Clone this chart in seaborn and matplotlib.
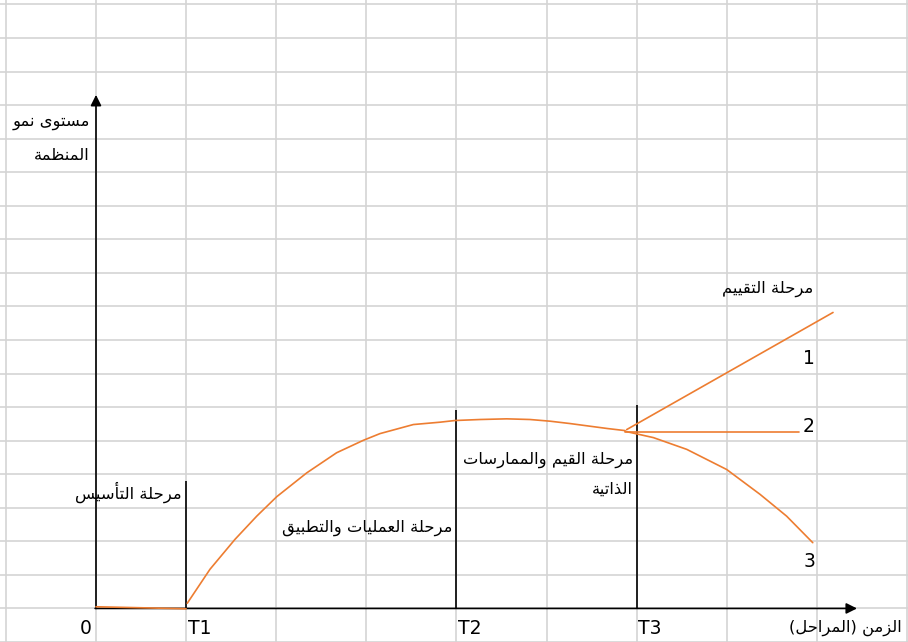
import matplotlib
matplotlib.use("Agg")
import matplotlib.pyplot as plt
import seaborn as sns

sns.set_style("white")
plt.rcParams['font.family'] = ['DejaVu Sans']
plt.rcParams['text.color'] = 'black'

# ── data (x in stage columns, y in growth rows) ─────────────────────────────
found_x = [0.0, 0.5, 1.0]
found_y = [0.05, 0.02, -0.01]

growth_x = [1.013, 1.265, 1.543, 1.784, 2.006, 2.339, 2.671, 2.967, 3.152, 3.522,
            3.818, 3.984, 4.262, 4.558, 4.817, 5.039, 5.26, 5.483, 5.68, 5.871]
growth_y = [0.155, 1.167, 2.06, 2.75, 3.33, 4.04, 4.64, 5.01, 5.21, 5.48,
            5.55, 5.60, 5.63, 5.65, 5.63, 5.58, 5.51, 5.43, 5.36, 5.30]

up_x, up_y = [5.89, 8.18], [5.33, 8.82]
flat_x, flat_y = [5.87, 7.80], [5.27, 5.27]
down_x = [5.871, 6.187, 6.557, 7.0, 7.37, 7.665, 7.955]
down_y = [5.28, 5.09, 4.74, 4.14, 3.40, 2.75, 1.96]

stage_x = [1, 4, 6]
stage_top = [3.79, 5.9, 6.05]
tick_x = [0, 1, 4, 6]
tick_labels = ["0", "T1", "T2", "T3"]

stage_names = ["مرحلة التأسيس", "مرحلة العمليات والتطبيق",
               "مرحلة القيم والممارسات", "الذاتية", "مرحلة التقييم"]
branch_labels = ["1", "2", "3"]
y_title = ["مستوى نمو", "المنظمة"]
x_title = "الزمن (المراحل)"

# minimal Arabic shaping -> presentation forms, visual order
AR_FORMS = {
    'ا': (0xFE8D, False), 'أ': (0xFE83, False), 'ب': (0xFE8F, True), 'ة': (0xFE93, False),
    'ت': (0xFE95, True), 'ح': (0xFEA1, True), 'ذ': (0xFEAB, False), 'ر': (0xFEAD, False),
    'ز': (0xFEAF, False), 'س': (0xFEB1, True), 'ط': (0xFEC1, True), 'ظ': (0xFEC5, True),
    'ع': (0xFEC9, True), 'ق': (0xFED5, True), 'ل': (0xFEDD, True), 'م': (0xFEE1, True),
    'ن': (0xFEE5, True), 'و': (0xFEED, False), 'ى': (0xFEEF, False), 'ي': (0xFEF1, True),
}


def ar(text):
    out = []
    for i, ch in enumerate(text):
        if ch not in AR_FORMS:
            out.append(ch)
            continue
        base, dual = AR_FORMS[ch]
        prev = text[i - 1] if i > 0 else ''
        nxt = text[i + 1] if i + 1 < len(text) else ''
        jp = prev in AR_FORMS and AR_FORMS[prev][1]
        jn = dual and nxt in AR_FORMS
        off = 3 if (jp and jn) else 1 if jp else 2 if jn else 0
        out.append(chr(base + off))
    mirror = {'(': ')', ')': '('}
    return ''.join(mirror.get(c, c) for c in reversed(out))


# pixel grid of the sheet: column 90.1 px, row 33.6 px, origin at (96, 609.2)
CW, RH, X0, Y0 = 90.1, 33.6, 96, 609.2
W, H = 908, 642

fig = plt.figure(figsize=(W / 100, H / 100), dpi=100)
ax = fig.add_axes([0, 0, 1, 1])
ax.set_xlim(-X0 / CW, (W - X0) / CW)
ax.set_ylim((Y0 - H) / RH, Y0 / RH)
ax.set_xticks(range(-1, 10))
ax.set_yticks(range(-1, 19))
ax.grid(True, color="#d4d4d4", lw=1.2)
ax.tick_params(length=0, labelbottom=False, labelleft=False)
for s in ax.spines.values():
    s.set_visible(False)

ORANGE = "#ED7D31"
for xs, ys in [(found_x, found_y), (growth_x, growth_y), (up_x, up_y),
               (flat_x, flat_y), (down_x, down_y)]:
    sns.lineplot(x=xs, y=ys, ax=ax, color=ORANGE, lw=1.2, sort=False,
                 estimator=None, zorder=4)

# axes with arrows
ax.annotate("", xy=(0, (Y0 - 95) / RH), xytext=(0, 0),
            arrowprops=dict(arrowstyle="-|>", color="black", lw=1.2,
                            mutation_scale=16, shrinkA=0, shrinkB=0), zorder=3)
ax.annotate("", xy=((857 - X0) / CW, 0), xytext=(-0.01, 0),
            arrowprops=dict(arrowstyle="-|>", color="black", lw=1.2,
                            mutation_scale=16, shrinkA=0, shrinkB=0), zorder=3)
ax.vlines(stage_x, 0, stage_top, color="black", lw=1.2, zorder=3)


def px(x, y):
    return (x - X0) / CW, (Y0 - y) / RH


AR_FS = 11.8
LAT_FS = 13.5
# tick labels
for x, lab in zip(tick_x, tick_labels):
    if lab == "0":
        ax.text(*px(92, 629), lab, ha="right", va="center", fontsize=LAT_FS)
    else:
        ax.text(x + 1.5 / CW, (Y0 - 629) / RH, lab, ha="left", va="center", fontsize=LAT_FS)

ax.text(*px(902, 629), ar(x_title), ha="right", va="center", fontsize=AR_FS)
ax.text(*px(90, 123), ar(y_title[0]), ha="right", va="center", fontsize=AR_FS)
ax.text(*px(90, 156), ar(y_title[1]), ha="right", va="center", fontsize=AR_FS)

name_pos = [(182, 493), (452, 528), (633, 460), (633, 490), (813, 289)]
for (x, y), lab in zip(name_pos, stage_names):
    ax.text(*px(x, y), ar(lab), ha="right", va="center", fontsize=AR_FS, zorder=5)

for (x, y), lab in zip([(815, 359), (815, 427), (815, 562)], branch_labels):
    ax.text(*px(x, y), lab, ha="right", va="center", fontsize=LAT_FS, zorder=5)

fig.savefig("out.png", dpi=100)
